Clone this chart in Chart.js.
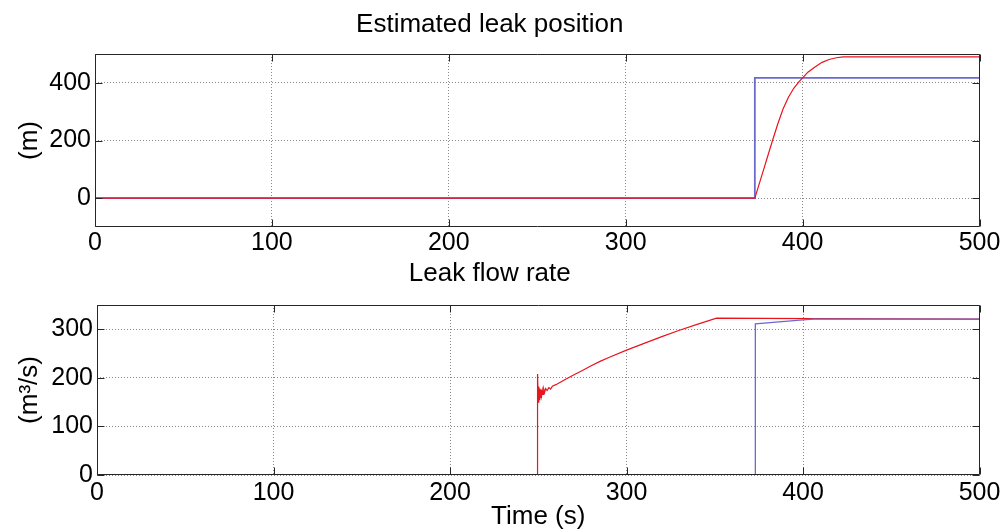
<!DOCTYPE html>
<html>
<head>
<meta charset="utf-8">
<script src="https://cdn.jsdelivr.net/npm/chart.js@4.4.1/dist/chart.umd.min.js"></script>
<style>
  html, body { margin: 0; padding: 0; background: #fff; }
  #wrap { position: relative; width: 1003px; height: 532px; }
  .box { position: absolute; left: 0; width: 1003px; }
  #topBox { top: 0; height: 258px; }
  #botBox { top: 258px; height: 274px; }
</style>
</head>
<body>
<div id="wrap">
  <div class="box" id="topBox"><canvas id="posChart"></canvas></div>
  <div class="box" id="botBox"><canvas id="flowChart"></canvas></div>
</div>
<script>
//----------------------------- Data -----------------------------------
const xTicks = [0, 100, 200, 300, 400, 500];
const posTicks = [0, 200, 400];
const flowTicks = [0, 100, 200, 300];

// leak position (m)
const posTrueT = [0, 373, 373, 500];
const posTrueV = [0, 0, 417, 417];
const posEstT = [0, 373, 375, 378, 380, 383, 386, 389, 392, 395, 398, 400, 403, 407, 411, 415, 419, 423, 500];
const posEstV = [0, 0, 40, 100, 140, 200, 258, 310, 350, 381, 404, 417, 437, 455, 471, 481, 487, 490, 490];

// leak flow rate (m3/s)
const flowTrueT = [0, 373, 373, 400, 406, 500];
const flowTrueV = [0, 0, 311, 319.5, 321, 321];
const flowEstT = [0, 249.6, 249.6, 250.0, 250.3, 250.6, 250.9, 251.2, 251.5, 251.9, 252.3, 252.7, 253.1, 253.6, 254.2,
                  255, 256, 257, 258, 260, 265, 270, 275, 280, 285, 290, 300, 310, 320, 330, 340, 351, 406, 500];
const flowEstV = [0, 0, 208, 150, 182, 155, 178, 160, 176, 163, 175, 166, 177, 170, 178,
                  174, 180, 177, 183, 186, 196, 206, 215, 225, 234, 242, 257, 271, 285, 298, 310, 323, 322, 321];

//----------------------------- Helpers -----------------------------------
Chart.defaults.font.family = '"Liberation Sans", Arial, Helvetica, sans-serif';
Chart.defaults.font.size = 25;
Chart.defaults.color = '#000';

const red = '#e8141e';
const blue = '#6a6ad2';
const labelSize = 26;

function pts(t, v) {
    return t.map((x, i) => ({ x: x, y: v[i] }));
}

// MATLAB-like box with inward tick marks
const framePlugin = {
    id: 'frame',
    afterDatasetsDraw(chart) {
        const { ctx, chartArea: a, scales } = chart;
        const l = Math.round(a.left) + 0.5, r = Math.round(a.right) - 0.5;
        const t = Math.round(a.top) + 0.5, b = Math.round(a.bottom) - 0.5;
        const len = 7;
        ctx.save();
        ctx.strokeStyle = '#262626';
        ctx.lineWidth = 1;
        ctx.beginPath();
        ctx.rect(l, t, r - l, b - t);
        scales.x.ticks.forEach(tk => {
            const px = Math.round(scales.x.getPixelForValue(tk.value)) + 0.5;
            ctx.moveTo(px, b); ctx.lineTo(px, b - len);
            ctx.moveTo(px, t); ctx.lineTo(px, t + len);
        });
        scales.y.ticks.forEach(tk => {
            const py = Math.round(scales.y.getPixelForValue(tk.value)) + 0.5;
            ctx.moveTo(l, py); ctx.lineTo(l + len, py);
            ctx.moveTo(r, py); ctx.lineTo(r - len, py);
        });
        ctx.stroke();
        ctx.restore();
    }
};

function buildOptions(o) {
    return {
        responsive: true,
        maintainAspectRatio: false,
        animation: false,
        layout: { padding: { left: 0, right: 23.5, top: 0, bottom: 0 } },
        plugins: {
            legend: { display: false },
            tooltip: { enabled: false },
            title: {
                display: true,
                text: o.title,
                color: '#000',
                font: { size: labelSize, weight: 'normal' },
                padding: o.titlePad
            }
        },
        scales: {
            x: {
                type: 'linear',
                min: 0,
                max: 500,
                afterBuildTicks: s => { s.ticks = xTicks.map(v => ({ value: v })); },
                afterFit: s => { s.height = o.xHeight; s.paddingLeft = 0; s.paddingRight = 0; },
                grid: { color: '#8a8a8a', drawTicks: false, lineWidth: 1 },
                border: { display: false, dash: [1, 2] },
                ticks: { color: '#000', padding: o.xTickPad, maxRotation: 0, autoSkip: false },
                title: {
                    display: !!o.xTitle,
                    text: o.xTitle || '',
                    color: '#000',
                    font: { size: labelSize },
                    padding: { top: 0, bottom: 0 }
                }
            },
            y: {
                type: 'linear',
                min: o.yMin,
                max: o.yMax,
                afterBuildTicks: s => { s.ticks = o.yTicks.map(v => ({ value: v })); },
                afterFit: s => { s.width = o.yWidth; s.paddingTop = 0; s.paddingBottom = 0; },
                grid: { color: '#8a8a8a', drawTicks: false, lineWidth: 1 },
                border: { display: false, dash: [1, 2] },
                ticks: { color: '#000', padding: 4, autoSkip: false },
                title: {
                    display: true,
                    text: o.yTitle,
                    color: '#000',
                    font: { size: labelSize },
                    padding: { top: 14, bottom: 0 }
                }
            }
        }
    };
}

//----------------------------- Estimated leak position -----------------------------------
new Chart(document.getElementById('posChart'), {
    type: 'line',
    data: {
        datasets: [
            { data: pts(posEstT, posEstV), borderColor: red, borderWidth: 1.2, pointRadius: 0, tension: 0, fill: false },
            { data: pts(posTrueT, posTrueV), borderColor: blue, borderWidth: 1.8, pointRadius: 0, tension: 0, fill: false }
        ]
    },
    options: buildOptions({
        title: 'Estimated leak position',
        titlePad: { top: 9, bottom: 13.8 },
        xHeight: 31,
        xTickPad: 1,
        yMin: -100,
        yMax: 500,
        yTicks: posTicks,
        yWidth: 95,
        yTitle: '(m)'
    }),
    plugins: [framePlugin]
});

//----------------------------- Leak flow rate -----------------------------------
new Chart(document.getElementById('flowChart'), {
    type: 'line',
    data: {
        datasets: [
            { data: pts(flowTrueT, flowTrueV), borderColor: blue, borderWidth: 1.3, pointRadius: 0, tension: 0, fill: false },
            { data: pts(flowEstT, flowEstV), borderColor: red, borderWidth: 1.2, pointRadius: 0, tension: 0, fill: false }
        ]
    },
    options: buildOptions({
        title: 'Leak flow rate',
        titlePad: { top: 0, bottom: 15.8 },
        xHeight: 57,
        xTickPad: 3,
        xTitle: 'Time (s)',
        yMin: 0,
        yMax: 350,
        yTicks: flowTicks,
        yWidth: 97,
        yTitle: '(m³/s)'
    }),
    plugins: [framePlugin]
});
</script>
</body>
</html>
